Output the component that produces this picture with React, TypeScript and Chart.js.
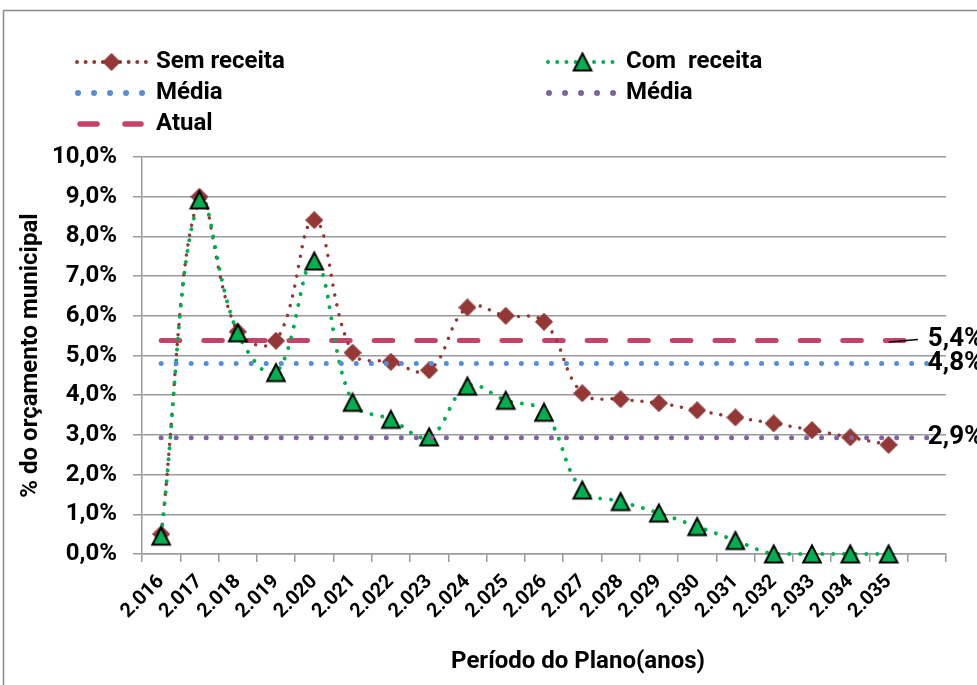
import React, { useEffect, useRef } from 'react';
import { Chart, registerables } from 'chart.js';

Chart.register(...registerables);

// ---------- data ----------
const categories = ['2.016', '2.017', '2.018', '2.019', '2.020', '2.021', '2.022', '2.023', '2.024', '2.025', '2.026', '2.027', '2.028', '2.029', '2.030', '2.031', '2.032', '2.033', '2.034', '2.035', ''];
const semReceita = [0.5, 9.0, 5.6, 5.37, 8.41, 5.07, 4.84, 4.63, 6.21, 6.0, 5.85, 4.05, 3.9, 3.8, 3.62, 3.44, 3.29, 3.12, 2.94, 2.75, null];
const comReceita = [0.45, 8.92, 5.57, 4.57, 7.38, 3.82, 3.39, 2.95, 4.23, 3.87, 3.57, 1.61, 1.32, 1.03, 0.69, 0.34, 0, 0, 0, 0, null];
const mediaSemValue = 4.8;
const mediaComValue = 2.93;
const atualValue = 5.38;
const endLabels = ['5,4%', '4,8%', '2,9%'];
const legendLabels = ['Sem receita', 'Com  receita', 'Média', 'Média', 'Atual'];
const yTitle = '% do orçamento municipal';
const xTitle = 'Período do Plano(anos)';

// ---------- styles ----------
const FONT = "Roboto, 'Liberation Sans Narrow', 'DejaVu Sans Condensed', sans-serif";
const BROWN = '#953735';
const GREEN = '#00B050';
const BLUE = '#558ED5';
const PURPLE = '#8064A2';
const ATUAL = '#C7426B';
const GRID = '#9a9a9a';

function makeTriangle(): HTMLCanvasElement {
  const c = document.createElement('canvas');
  c.width = 22; c.height = 22;
  const g = c.getContext('2d')!;
  g.beginPath();
  g.moveTo(11, 2.5);
  g.lineTo(19.8, 19.5);
  g.lineTo(2.2, 19.5);
  g.closePath();
  g.fillStyle = GREEN;
  g.fill();
  g.lineJoin = 'miter';
  g.lineWidth = 2;
  g.strokeStyle = '#000';
  g.stroke();
  return c;
}

function makeDiamond(): HTMLCanvasElement {
  const c = document.createElement('canvas');
  c.width = 18; c.height = 18;
  const g = c.getContext('2d')!;
  g.beginPath();
  g.moveTo(9, 0.5);
  g.lineTo(17.5, 9);
  g.lineTo(9, 17.5);
  g.lineTo(0.5, 9);
  g.closePath();
  g.fillStyle = BROWN;
  g.fill();
  g.lineWidth = 1;
  g.strokeStyle = '#7a2c2a';
  g.stroke();
  return c;
}

export default function App() {
  const ref = useRef<HTMLCanvasElement | null>(null);

  useEffect(() => {
    document.body.style.margin = '0';
    const canvas = ref.current!;
    const tri = makeTriangle();
    const dia = makeDiamond();

    const dotted = (ctx: CanvasRenderingContext2D, x1: number, x2: number, y: number, color: string, w: number, gap: number) => {
      ctx.save();
      ctx.strokeStyle = color;
      ctx.lineWidth = w;
      ctx.lineCap = 'round';
      ctx.setLineDash([0.01, gap]);
      ctx.beginPath();
      ctx.moveTo(x1, y);
      ctx.lineTo(x2, y);
      ctx.stroke();
      ctx.restore();
    };

    const decor = {
      id: 'decor',
      beforeDraw(chart: any) {
        const ctx = chart.ctx as CanvasRenderingContext2D;
        ctx.save();
        ctx.fillStyle = '#fff';
        ctx.fillRect(0, 0, chart.width, chart.height);
        ctx.strokeStyle = '#8a8a8a';
        ctx.lineWidth = 1.5;
        ctx.strokeRect(3.5, 10.5, 2000, 2000);
        ctx.restore();
      },
      afterDraw(chart: any) {
        const ctx = chart.ctx as CanvasRenderingContext2D;
        const xs = chart.scales.x;
        const ys = chart.scales.y;
        ctx.save();
        ctx.fillStyle = '#000';
        ctx.textBaseline = 'middle';
        ctx.textAlign = 'left';
        ctx.font = `bold 24px ${FONT}`;

        // legend
        const r1 = 62, r2 = 93, r3 = 124;
        const lx1 = 77, lx2 = 146, ltx = 156;
        const rx1 = 548, rx2 = 617, rtx = 626;
        dotted(ctx, lx1, lx2, r1, BROWN, 4, 8.6);
        ctx.drawImage(dia, (lx1 + lx2) / 2 - 9, r1 - 9);
        ctx.fillText(legendLabels[0], ltx, r1);
        dotted(ctx, rx1, rx2, r1, GREEN, 4, 9.2);
        ctx.drawImage(tri, (rx1 + rx2) / 2 - 11, r1 - 11);
        ctx.fillText(legendLabels[1], rtx, r1);
        dotted(ctx, 78, 143, r2, BLUE, 6, 16);
        ctx.fillText(legendLabels[2], ltx, r2);
        dotted(ctx, 549, 614, r2, PURPLE, 6, 16);
        ctx.fillText(legendLabels[3], rtx, r2);
        ctx.save();
        ctx.strokeStyle = ATUAL;
        ctx.lineWidth = 5.5;
        ctx.lineCap = 'round';
        ctx.beginPath();
        ctx.moveTo(80, r3); ctx.lineTo(97, r3);
        ctx.moveTo(125, r3); ctx.lineTo(141, r3);
        ctx.stroke();
        ctx.restore();
        ctx.fillText(legendLabels[4], ltx, r3);

        // x axis title
        ctx.textAlign = 'center';
        ctx.fillText(xTitle, 578, 662);

        // end labels
        const lastX = xs.getPixelForValue(categories.length - 1);
        const yA = ys.getPixelForValue(atualValue);
        const yB = ys.getPixelForValue(mediaSemValue);
        const yC = ys.getPixelForValue(mediaComValue);
        ctx.strokeStyle = '#000';
        ctx.lineWidth = 1.5;
        ctx.beginPath();
        ctx.moveTo(lastX - 38, yA + 1.5);
        ctx.lineTo(lastX - 9, yA - 1);
        ctx.stroke();
        ctx.textAlign = 'left';
        ctx.font = `bold 26px ${FONT}`;
        ctx.fillText(endLabels[0], lastX + 1, yA - 1);
        ctx.fillText(endLabels[1], lastX + 1, yB);
        ctx.fillText(endLabels[2], lastX + 1, yC);
        ctx.restore();
      },
    };

    const chart = new Chart(canvas, {
      type: 'line',
      data: {
        labels: categories,
        datasets: [
          {
            label: 'Média',
            data: categories.map(() => mediaSemValue),
            borderColor: BLUE,
            borderWidth: 5,
            borderDash: [0.01, 15],
            borderCapStyle: 'round',
            pointRadius: 0,
            tension: 0,
            order: 0,
          },
          {
            label: 'Média',
            data: categories.map(() => mediaComValue),
            borderColor: PURPLE,
            borderWidth: 5,
            borderDash: [0.01, 15],
            borderCapStyle: 'round',
            pointRadius: 0,
            tension: 0,
            order: 0,
          },
          {
            label: 'Com  receita',
            data: comReceita,
            borderColor: GREEN,
            borderWidth: 4,
            borderDash: [0.01, 11],
            borderCapStyle: 'round',
            pointStyle: tri,
            pointRadius: 10,
            tension: 0.4,
            order: 1,
            clip: false,
          },
          {
            label: 'Sem receita',
            data: semReceita,
            borderColor: BROWN,
            borderWidth: 3.5,
            borderDash: [0.01, 10],
            borderCapStyle: 'round',
            pointStyle: dia,
            pointRadius: 9,
            tension: 0.4,
            order: 2,
            clip: false,
          },
          {
            label: 'Atual',
            data: categories.map(() => atualValue),
            borderColor: ATUAL,
            borderWidth: 5,
            borderDash: [18.6, 24],
            borderCapStyle: 'round',
            pointRadius: 0,
            tension: 0,
            order: 3,
          },
        ] as any,
      },
      options: {
        animation: false,
        responsive: false,
        layout: { padding: { left: 0, top: 157, right: 31, bottom: 0 } },
        plugins: {
          legend: { display: false },
          tooltip: { enabled: false },
        },
        scales: {
          x: {
            type: 'category',
            offset: true,
            grid: {
              display: true,
              drawOnChartArea: false,
              drawTicks: true,
              tickLength: 8,
              offset: true,
              color: GRID,
              lineWidth: 1.5,
            },
            border: { display: true, color: GRID, width: 1.5 },
            ticks: {
              autoSkip: false,
              maxRotation: 45,
              minRotation: 45,
              padding: 8,
              color: '#000',
              font: { family: FONT, size: 20, weight: 'bold' },
            },
            afterFit: (s: any) => { s.height = 131; },
          },
          y: {
            min: 0,
            max: 10,
            ticks: {
              stepSize: 1,
              padding: 16,
              color: '#000',
              font: { family: FONT, size: 24, weight: 'bold' },
              callback: (v: any) => Number(v).toFixed(1).replace('.', ',') + '%',
            },
            grid: { color: GRID, lineWidth: 1.5, tickLength: 9, drawTicks: true },
            border: { display: true, color: GRID, width: 1.5 },
            title: {
              display: true,
              text: yTitle,
              color: '#000',
              font: { family: FONT, size: 24, weight: 'bold' },
              padding: { top: 17, bottom: 0 },
            },
            afterFit: (s: any) => { s.width = 142; },
          },
        },
      } as any,
      plugins: [decor],
    });

    return () => chart.destroy();
  }, []);

  return (
    <div style={{ width: 977, height: 685 }}>
      <canvas ref={ref} width={977} height={685} style={{ display: 'block' }} />
    </div>
  );
}
